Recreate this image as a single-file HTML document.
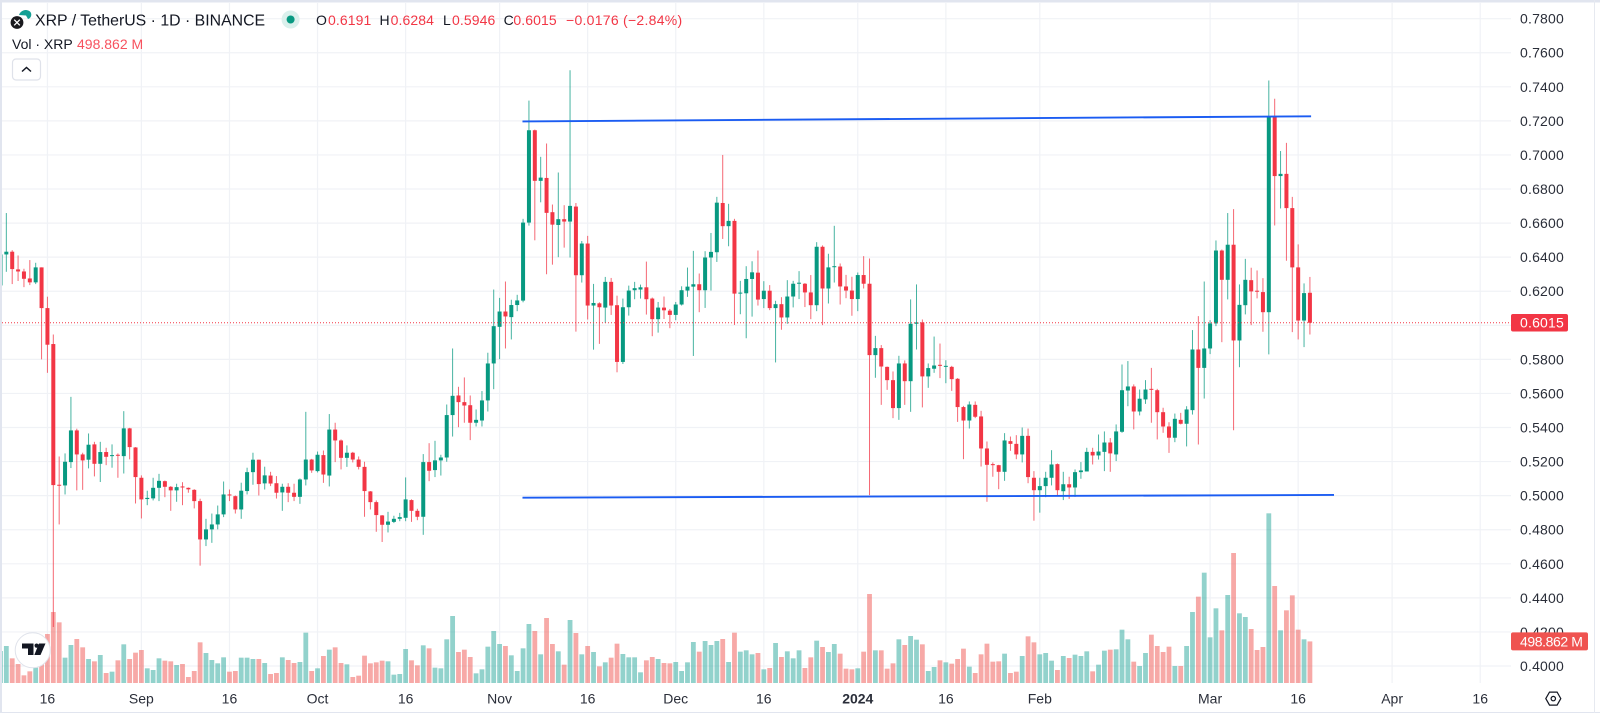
<!DOCTYPE html>
<html lang="en">
<head>
<meta charset="utf-8">
<title>XRP / TetherUS 1D chart</title>
<style>
html,body{margin:0;padding:0;background:#fff;width:1600px;height:713px;overflow:hidden}
svg{display:block;font-family:"Liberation Sans",sans-serif;filter:blur(0.3px)}
text{font-family:"Liberation Sans",sans-serif}
</style>
</head>
<body>
<svg id="chart" xmlns="http://www.w3.org/2000/svg" width="1600" height="713" viewBox="0 0 1600 713">
  <defs>
    <clipPath id="pane-clip"><rect x="2" y="3" width="1509" height="680"/></clipPath>
  </defs>
  <rect x="0" y="0" width="1600" height="713" fill="#ffffff"/>
  <g id="grid"></g>
  <g id="volumes" clip-path="url(#pane-clip)"></g>
  <g id="candles" clip-path="url(#pane-clip)"></g>
  <g id="trendlines" clip-path="url(#pane-clip)"></g>
  <g id="price-axis"></g>
  <g id="time-axis"></g>
  <g id="markers"></g>

  <g>
    <circle cx="32.7" cy="650.3" r="17.5" fill="#ffffff" stroke="#e0e3eb" stroke-width="1"/>
    <path d="M22 643.5h11.5v11.5h-5.5v-6.5h-6z" fill="#131722"/>
    <circle cx="36.6" cy="645.6" r="2.1" fill="#131722"/>
    <path d="M39 643.5h6.5l-5 11.5h-6.2z" fill="#131722"/>
  </g>

  <g>
    <rect x="0" y="0" width="1600" height="2.5" fill="#e1e5ef"/>
    <rect x="0" y="0" width="2" height="713" fill="#e1e5ef"/>
    <rect x="0" y="712" width="1600" height="1" fill="#e1e5ef"/>
    <rect x="1594" y="0" width="1" height="713" fill="#e6e9f0"/>
  </g>

  <g>
    <g>
      <path d="M19 15a7 7 0 0 1 11-3.5a4.5 4.5 0 0 1-2 7.5l-2-3.5z" fill="#14a095"/>
      <circle cx="17" cy="22.5" r="6.4" fill="#1a1a1e"/>
      <path d="M14.2 19.7l5.6 5.6M19.8 19.7l-5.6 5.6" stroke="#ffffff" stroke-width="1.3"/>
    </g>
    <text x="35" y="25.5" font-size="15.85" fill="#131722">XRP / TetherUS · 1D · BINANCE</text>
    <circle cx="290.6" cy="19.5" r="9" fill="#daf0ec"/>
    <circle cx="290.6" cy="19.5" r="4" fill="#089981"/>
    <text x="316" y="25" font-size="14" fill="#131722">O</text>
    <text x="328" y="25" font-size="14" letter-spacing="0.1" fill="#f23645">0.6191</text>
    <text x="379.5" y="25" font-size="14" fill="#131722">H</text>
    <text x="390.6" y="25" font-size="14" letter-spacing="0.1" fill="#f23645">0.6284</text>
    <text x="443" y="25" font-size="14" fill="#131722">L</text>
    <text x="452" y="25" font-size="14" letter-spacing="0.1" fill="#f23645">0.5946</text>
    <text x="503.6" y="25" font-size="14" fill="#131722">C</text>
    <text x="513.4" y="25" font-size="14" letter-spacing="0.1" fill="#f23645">0.6015</text>
    <text x="566" y="25" font-size="14" letter-spacing="0.27" fill="#f23645">−0.0176 (−2.84%)</text>
  </g>
  <g>
    <text x="12" y="49" font-size="14" fill="#131722">Vol · XRP</text>
    <text x="77" y="49" font-size="14" fill="#f7525f">498.862 M</text>
  </g>
  <g>
    <rect x="12.5" y="59" width="28" height="21" rx="3.5" fill="#ffffff" stroke="#dfe2ea" stroke-width="1.2"/>
    <path d="M22 71.5l4.5-4l4.5 4" fill="none" stroke="#131722" stroke-width="1.5"/>
  </g>
  <g transform="translate(1553.3 698.6)">
    <path d="M-7.5 0L-3.8-6.5H3.8L7.5 0L3.8 6.5H-3.8Z" fill="none" stroke="#131722" stroke-width="1.2"/>
    <circle cx="0" cy="0" r="2.2" fill="none" stroke="#131722" stroke-width="1.2"/>
  </g>
</svg>
<script>
// Bars start on 8 Aug 2023 (index 0 is the partly hidden bar at the left edge)
const opens = [.6234,.6416,.6432,.6328,.6316,.6275,.6252,.6340,.6101,.5890,.5064,.5060,.5197,.5383,.5242,.5211,.5301,.5187,.5256,.5232,.5240,.5232,.5395,.5283,.5105,.4980,.4984,.5046,.5085,.5052,.5031,.5054,.5046,.5034,.4968,.4743,.4802,.4831,.4890,.5007,.4997,.4919,.5027,.5138,.5211,.5072,.5118,.5073,.5019,.5052,.5017,.4993,.5095,.5212,.5144,.5238,.5118,.5388,.5324,.5222,.5252,.5212,.5169,.5025,.4962,.4884,.4829,.4846,.4864,.4870,.4974,.4911,.4876,.5197,.5150,.5207,.5224,.5473,.5588,.5549,.5531,.5428,.5441,.5559,.5776,.5991,.6081,.6048,.6119,.6145,.6603,.7145,.6848,.6865,.6664,.6589,.6623,.6609,.6697,.6294,.6480,.6116,.6129,.6104,.6255,.6118,.5785,.6106,.6206,.6210,.6223,.6157,.6036,.6104,.6086,.6061,.6122,.6204,.6227,.6241,.6206,.6398,.6429,.6718,.6582,.6613,.6186,.6188,.6272,.6309,.6154,.6203,.6101,.6124,.6046,.6169,.6244,.6244,.6193,.6118,.6461,.6216,.6341,.6345,.6228,.6204,.6154,.6295,.6244,.5825,.5866,.5756,.5678,.5514,.5776,.5672,.6009,.6017,.5700,.5745,.5768,.5756,.5756,.5686,.5520,.5441,.5533,.5465,.5277,.5185,.5179,.5140,.5320,.5304,.5242,.5351,.5105,.5032,.5056,.5105,.5185,.5026,.5067,.5048,.5138,.5142,.5257,.5236,.5257,.5312,.5242,.5375,.5617,.5641,.5494,.5565,.5627,.5619,.5490,.5406,.5340,.5445,.5422,.5502,.5858,.5750,.5864,.6011,.6439,.6267,.6473,.5911,.6118,.6265,.6203,.6195,.6077,.7228,.6876,.6889,.6688,.6340,.6028,.6191];
const highs = [.6416,.6659,.6441,.6410,.6332,.6383,.6367,.6340,.6168,.5946,.5230,.5248,.5580,.5393,.5252,.5365,.5316,.5316,.5281,.5301,.5248,.5496,.5398,.5285,.5119,.5029,.5105,.5128,.5089,.5056,.5070,.5079,.5048,.5038,.4982,.4864,.4895,.4942,.5083,.5036,.5001,.5076,.5164,.5252,.5211,.5170,.5140,.5115,.5070,.5073,.5070,.5101,.5492,.5216,.5259,.5265,.5479,.5428,.5330,.5295,.5257,.5230,.5199,.5027,.4972,.4886,.4905,.4882,.4899,.5107,.4978,.4923,.5244,.5308,.5322,.5240,.5535,.5864,.5639,.5694,.5588,.5506,.5614,.5839,.6210,.6161,.6257,.6150,.6179,.6625,.7319,.7149,.6989,.7067,.6709,.6897,.6705,.7497,.6718,.6495,.6525,.6243,.6135,.6284,.6278,.6174,.6157,.6233,.6255,.6239,.6374,.6163,.6137,.6169,.6096,.6137,.6229,.6339,.6437,.6304,.6435,.6542,.6754,.7000,.6713,.6625,.6261,.6347,.6376,.6439,.6259,.6236,.6144,.6165,.6265,.6261,.6318,.6248,.6295,.6488,.6469,.6420,.6584,.6363,.6296,.6285,.6310,.6406,.6392,.5938,.5884,.5758,.5729,.5821,.5794,.6152,.6240,.6034,.5776,.5934,.5893,.5795,.5762,.5690,.5527,.5553,.5553,.5498,.5318,.5195,.5181,.5367,.5347,.5355,.5400,.5394,.5144,.5105,.5140,.5267,.5189,.5140,.5111,.5154,.5197,.5281,.5281,.5359,.5377,.5338,.5418,.5770,.5790,.5653,.5623,.5678,.5750,.5627,.5516,.5431,.5482,.5486,.5525,.5972,.6054,.6257,.6030,.6498,.6445,.6659,.6682,.6240,.6390,.6338,.6322,.6277,.7437,.7330,.7023,.7071,.6754,.6475,.6246,.6284];
const lows = [.6234,.6314,.6242,.6260,.6224,.6236,.6242,.5800,.5721,.4229,.4831,.5007,.5162,.5031,.5034,.5160,.5113,.5080,.5179,.5164,.5105,.5130,.5213,.4954,.4866,.4944,.4972,.4968,.4991,.4911,.4964,.4944,.5017,.4925,.4589,.4704,.4723,.4802,.4874,.4968,.4895,.4864,.5007,.5064,.5001,.5036,.5056,.4983,.4911,.4962,.4968,.4952,.5060,.5134,.5136,.5075,.5054,.5197,.5154,.5169,.5195,.5154,.4876,.4919,.4788,.4728,.4784,.4839,.4850,.4850,.4846,.4856,.4770,.5085,.5109,.5118,.5199,.5347,.5402,.5428,.5326,.5406,.5406,.5494,.5625,.5801,.5864,.5917,.6083,.6135,.6585,.6499,.6722,.6300,.6356,.6400,.6456,.6398,.5963,.6251,.6034,.5857,.5891,.6014,.6061,.5724,.5773,.6057,.6153,.6157,.6063,.5936,.5957,.6037,.5983,.6030,.6116,.6167,.5820,.6077,.6102,.6204,.6372,.6507,.6464,.6002,.6065,.5924,.6051,.6116,.6101,.6089,.5782,.5974,.6009,.6105,.6154,.6107,.6036,.6083,.6001,.6128,.6251,.6122,.6159,.6056,.6083,.6216,.5003,.5692,.5533,.5621,.5455,.5445,.5533,.5492,.5858,.5518,.5633,.5721,.5690,.5660,.5615,.5433,.5214,.5394,.5455,.5171,.4964,.5111,.5038,.5087,.5263,.5214,.5195,.5073,.4853,.4900,.4991,.5060,.5003,.4974,.4981,.4993,.5099,.5142,.5183,.5212,.5144,.5140,.5203,.5369,.5525,.5389,.5471,.5539,.5428,.5330,.5369,.5251,.5314,.5418,.5289,.5476,.5300,.5570,.5831,.5995,.5901,.6152,.5384,.5754,.6064,.6001,.6158,.5962,.5829,.6586,.6686,.6379,.5960,.5917,.5872,.5946];
const closes = [.6416,.6432,.6330,.6316,.6273,.6252,.6340,.6101,.5886,.5062,.5060,.5199,.5383,.5242,.5207,.5299,.5187,.5256,.5228,.5238,.5234,.5395,.5285,.5109,.4978,.4987,.5046,.5087,.5052,.5031,.5050,.5048,.5037,.4968,.4743,.4802,.4831,.4890,.5007,.5001,.4919,.5029,.5138,.5211,.5068,.5119,.5071,.5017,.5052,.5017,.4993,.5095,.5212,.5148,.5240,.5124,.5388,.5324,.5222,.5252,.5212,.5169,.5027,.4962,.4886,.4829,.4848,.4864,.4874,.4978,.4911,.4876,.5197,.5146,.5207,.5224,.5473,.5586,.5549,.5529,.5428,.5445,.5559,.5776,.5995,.6081,.6052,.6119,.6146,.6603,.7145,.6848,.6867,.6660,.6591,.6623,.6609,.6701,.6294,.6480,.6116,.6131,.6106,.6255,.6116,.5785,.6106,.6204,.6218,.6223,.6153,.6036,.6104,.6088,.6061,.6122,.6206,.6227,.6241,.6206,.6398,.6431,.6720,.6582,.6613,.6186,.6192,.6272,.6311,.6151,.6203,.6101,.6124,.6046,.6169,.6244,.6250,.6193,.6118,.6461,.6216,.6340,.6347,.6228,.6204,.6154,.6295,.6244,.5825,.5866,.5758,.5678,.5514,.5776,.5672,.6009,.6017,.5700,.5749,.5764,.5762,.5762,.5684,.5520,.5441,.5535,.5463,.5277,.5181,.5179,.5140,.5324,.5304,.5242,.5351,.5109,.5032,.5056,.5105,.5183,.5032,.5067,.5048,.5138,.5148,.5257,.5236,.5259,.5312,.5248,.5377,.5619,.5641,.5494,.5569,.5623,.5623,.5490,.5406,.5340,.5451,.5422,.5506,.5858,.5750,.5864,.6011,.6439,.6267,.6473,.5911,.6120,.6267,.6199,.6197,.6077,.7228,.6876,.6889,.6688,.6340,.6028,.6189,.6015];
const volumesM = [384,444,296,228,92,140,184,356,588,852,728,304,456,528,428,288,260,336,120,136,272,464,288,364,396,176,156,296,268,260,216,228,72,144,488,360,276,236,308,136,144,304,304,288,288,240,108,120,308,276,240,252,604,144,176,324,400,428,240,224,72,88,328,236,248,268,260,100,108,408,272,212,452,416,184,176,524,804,372,400,312,116,164,436,624,468,444,332,144,416,708,624,344,780,468,380,220,756,600,344,444,372,200,248,304,472,348,308,308,128,272,312,288,240,236,252,144,248,492,376,504,456,504,528,252,604,376,392,344,360,164,180,480,312,380,296,392,180,308,508,432,372,468,352,172,164,176,376,1068,392,392,172,236,524,456,564,520,464,144,192,272,248,232,288,412,196,120,344,472,256,260,352,120,136,324,560,488,344,360,268,156,324,300,340,324,380,140,220,388,400,404,640,524,256,204,360,580,444,372,436,204,204,444,852,1036,1324,548,896,632,1056,1560,836,792,648,396,432,2036,1164,632,872,1052,640,524,499];
const priceTicks = [0.78,0.76,0.74,0.72,0.70,0.68,0.66,0.64,0.62,0.60,0.58,0.56,0.54,0.52,0.50,0.48,0.46,0.44,0.42,0.40];
const timeTickDays = [8,24,39,54,69,85,100,115,130,146,161,177,206,221,237,252];
const timeTickLabels = ['16','Sep','16','Oct','16','Nov','16','Dec','16','2024','16','Feb','Mar','16','Apr','16'];
const trendDays = [[88.9,223.2],[88.9,227.1]];
const trendPrices = [[0.7197,0.7227],[0.4988,0.5004]];
const lastPrice = 0.6015;
const lastVolumeLabel = '498.862 M';
const lastPriceLabel = '0.6015';

const NS = 'http://www.w3.org/2000/svg';
const BAR_STEP = 5.872;
const FIRST_X = 0.46;
const PRICE_BASE_Y = 666;
const PX_PER_PRICE = 1703.5;
const VOLUME_BASE_Y = 683;
const M_PER_PX = 12;
const PANE_RIGHT = 1511;
const GREEN = '#089981';
const RED = '#f23645';

function xScale(day){ return FIRST_X + BAR_STEP * day; }
function yScale(price){ return PRICE_BASE_Y - (price - 0.40) * PX_PER_PRICE; }
function volHeight(v){ return v / M_PER_PX; }
function make(tag, parent, attrs){
  const el = document.createElementNS(NS, tag);
  for (const k in attrs) el.setAttribute(k, attrs[k]);
  parent.appendChild(el);
  return el;
}

const gridG = document.getElementById('grid');
const volG = document.getElementById('volumes');
const candleG = document.getElementById('candles');
const trendG = document.getElementById('trendlines');
const priceG = document.getElementById('price-axis');
const timeG = document.getElementById('time-axis');
const markG = document.getElementById('markers');

priceTicks.forEach(function(p){
  const y = yScale(p);
  const line = make('line', gridG, {x1:2, x2:PANE_RIGHT, y1:y, y2:y, stroke:'#f0f2f6', 'stroke-width':1.2});
  
  
  const t = make('text', priceG, {x:1520, y:y+5, 'font-size':14, 'letter-spacing':0.2, fill:'#2a2e39'});
  
  
  t.textContent = p.toFixed(4);
});

timeTickDays.forEach(function(d, i){
  const x = xScale(d);
  const line = make('line', gridG, {x1:x, x2:x, y1:3, y2:VOLUME_BASE_Y, stroke:'#f0f2f6', 'stroke-width':1.2});
  
  
  const bold = timeTickLabels[i] === '2024';
  const t = make('text', timeG, {x:x, y:703.5, 'font-size':14, 'text-anchor':'middle', fill:'#2a2e39', 'font-weight':bold?'700':'400'});
  
  
  t.textContent = timeTickLabels[i];
});

closes.forEach(function(c, i){
  const x = xScale(i);
  const up = c >= opens[i];
  const h = volHeight(volumesM[i]);
  const vb = make('rect', volG, {x:x-2.4, y:VOLUME_BASE_Y-h, width:4.8, height:h, fill:up?'rgba(38,166,154,0.5)':'rgba(239,83,80,0.5)'});
  
  

  const color = up ? GREEN : RED;
  const wick = make('line', candleG, {x1:x, x2:x, y1:yScale(highs[i]), y2:yScale(lows[i]), stroke:color, 'stroke-width':1, 'stroke-opacity':0.75});
  
  
  const top = yScale(Math.max(c, opens[i]));
  const bot = yScale(Math.min(c, opens[i]));
  const body = make('rect', candleG, {x:x-2, y:top, width:4, height:Math.max(bot-top, 1), fill:color});
  
  
});

trendDays.forEach(function(days, i){
  const prices = trendPrices[i];
  const line = make('line', trendG, {x1:xScale(days[0]), y1:yScale(prices[0]), x2:xScale(days[1]), y2:yScale(prices[1]), stroke:'#1b5cf2', 'stroke-width':1.9});
  
  
});

const lastY = yScale(lastPrice);
const lastLine = make('line', trendG, {x1:2, x2:PANE_RIGHT, y1:lastY, y2:lastY, stroke:RED, 'stroke-width':1, 'stroke-dasharray':'1 2'});



const priceBox = make('rect', markG, {x:PANE_RIGHT, y:lastY-8.8, width:57, height:17.6, rx:2, fill:RED});


const priceTxt = make('text', markG, {x:1520, y:lastY+5, 'font-size':14, 'letter-spacing':0.2, fill:'#ffffff'});


priceTxt.textContent = lastPriceLabel;

const lastVolY = VOLUME_BASE_Y - volHeight(volumesM[volumesM.length-1]);
const volBox = make('rect', markG, {x:PANE_RIGHT, y:lastVolY-9, width:77, height:18, rx:2, fill:'#ef5350'});


const volTxt = make('text', markG, {x:1520, y:lastVolY+5, 'font-size':14, 'letter-spacing':-0.4, fill:'#ffffff'});


volTxt.textContent = lastVolumeLabel;
</script>
</body>
</html>
